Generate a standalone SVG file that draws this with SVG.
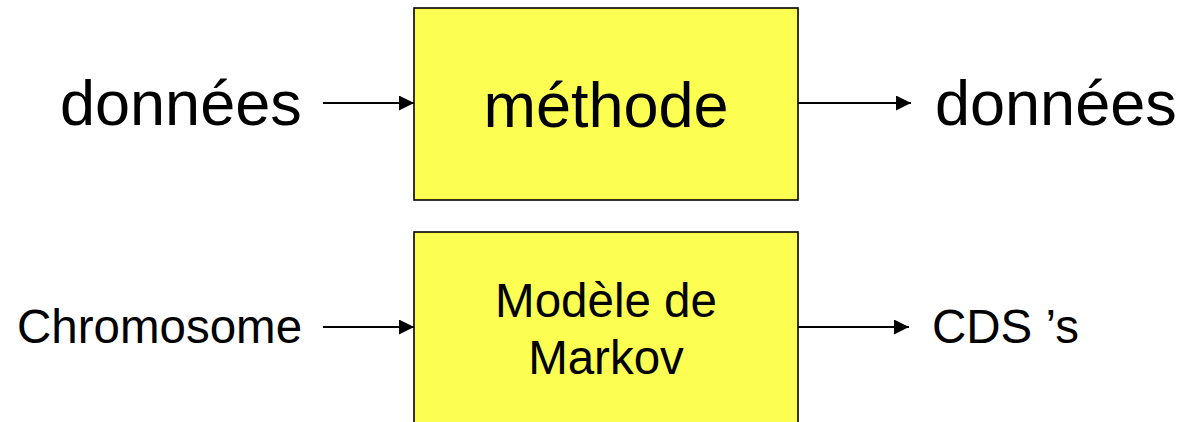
<svg xmlns="http://www.w3.org/2000/svg" width="1182" height="422" viewBox="0 0 1182 422">
  <style>
    .box { fill: #FCFF52; stroke: #000; stroke-width: 1.6; }
    .lbl { font-family: "Liberation Sans", Arial, sans-serif; fill: #000; }
    .big { font-size: 63px; }
    .small { font-size: 47.5px; }
    .wire { stroke: #000; stroke-width: 2; fill: none; marker-end: url(#head); }
  </style>
  <defs>
    <marker id="head" viewBox="0 0 10 10" refX="10" refY="5" markerWidth="17" markerHeight="15" markerUnits="userSpaceOnUse" orient="auto">
      <path d="M0,0 L10,5 L0,10 Z" fill="#000"/>
    </marker>
  </defs>

  <rect width="1182" height="422" fill="#fff"/>

  <!-- top row -->
  <g id="in-top">
    <text class="lbl big" x="60" y="125">données</text>
  </g>
  <g id="method">
    <rect class="box" x="414" y="8" width="384" height="192"/>
    <text class="lbl big" x="606" y="127" text-anchor="middle">méthode</text>
  </g>
  <g id="out-top">
    <text class="lbl big" x="935" y="125">données</text>
  </g>

  <!-- bottom row -->
  <g id="in-bottom">
    <text class="lbl small" x="17" y="343">Chromosome</text>
  </g>
  <g id="markov">
    <rect class="box" x="414" y="232" width="384" height="200"/>
    <text class="lbl small" x="606" y="317" text-anchor="middle">Modèle de</text>
    <text class="lbl small" x="606" y="374" text-anchor="middle">Markov</text>
  </g>
  <g id="out-bottom">
    <text class="lbl small" x="932" y="343">CDS ’s</text>
  </g>

  <g id="connectors">
    <line class="wire" x1="323" y1="103" x2="414" y2="103"/>
    <line class="wire" x1="798" y1="103" x2="911" y2="103"/>
    <line class="wire" x1="323" y1="327" x2="414" y2="327"/>
    <line class="wire" x1="798" y1="327" x2="909" y2="327"/>
  </g>
</svg>
